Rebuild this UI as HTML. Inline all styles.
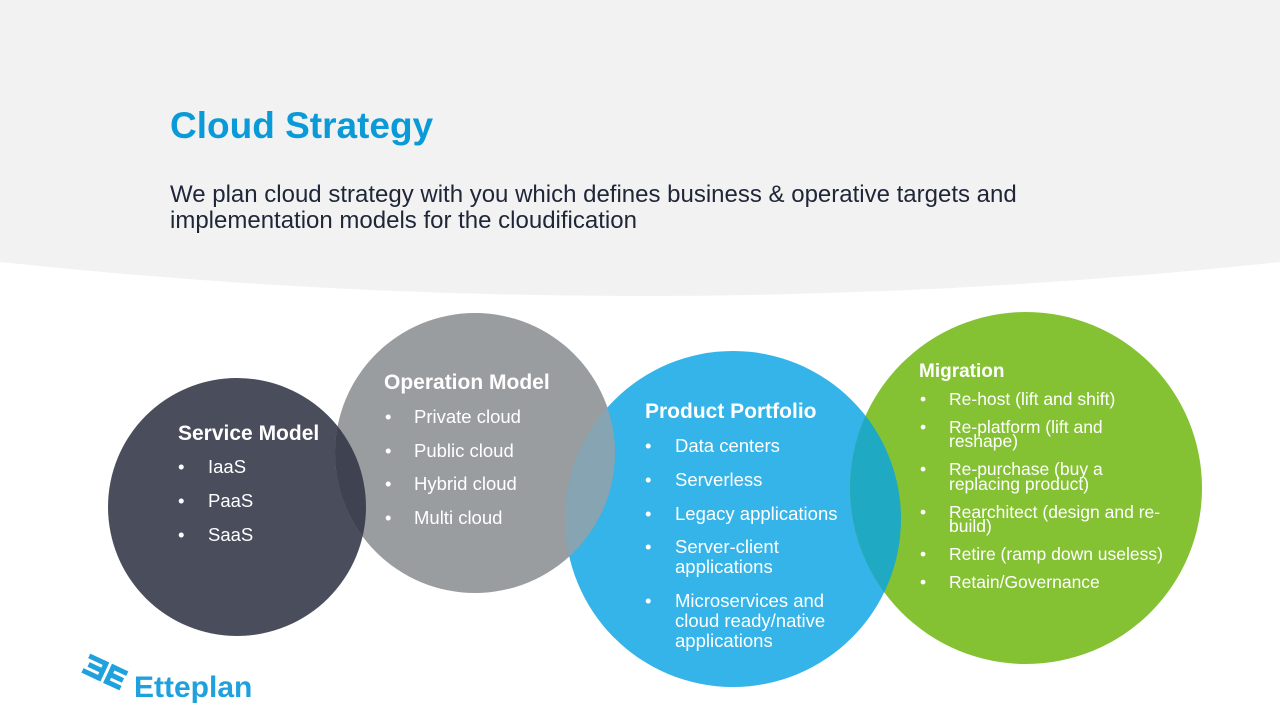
<!DOCTYPE html>
<html><head><meta charset="utf-8"><style>
html,body{margin:0;padding:0;background:#fff;}
svg{display:block;font-family:"Liberation Sans",Arial,sans-serif;}
</style></head><body>
<svg width="1280" height="720" viewBox="0 0 1280 720" xmlns="http://www.w3.org/2000/svg">
<defs>
<clipPath id="cD"><circle cx="237" cy="507" r="129"/></clipPath>
<clipPath id="cG"><circle cx="475" cy="453" r="140"/></clipPath>
<clipPath id="cB"><circle cx="733" cy="519" r="168"/></clipPath>
</defs>
<path d="M0,0 H1280 V262 Q640,330 0,262 Z" fill="#f2f2f2"/>
<text x="170" y="138" font-size="37" font-weight="bold" fill="#0a9ad8">Cloud Strategy</text>
<text x="170" y="202" font-size="24" fill="#1f2638">We plan cloud strategy with you which defines business &amp; operative targets and</text>
<text x="170" y="228" font-size="24" fill="#1f2638">implementation models for the cloudification</text>

<circle cx="237" cy="507" r="129" fill="#4a4d5b"/>
<circle cx="475" cy="453" r="140" fill="#9a9da0"/>
<circle cx="733" cy="519" r="168" fill="#34b4e8"/>
<circle cx="1026" cy="488" r="176" fill="#84c234"/>
<circle cx="475" cy="453" r="140" fill="#3f4250" clip-path="url(#cD)"/>
<circle cx="733" cy="519" r="168" fill="#86a4b1" clip-path="url(#cG)"/>
<circle cx="1026" cy="488" r="176" fill="#1fa9c3" clip-path="url(#cB)"/>

<g fill="#fff">
<text x="178" y="440" font-size="21" font-weight="bold">Service Model</text>
<g font-size="18.5">
<text x="178" y="473">•</text><text x="208" y="473">IaaS</text>
<text x="178" y="507">•</text><text x="208" y="507">PaaS</text>
<text x="178" y="541">•</text><text x="208" y="541">SaaS</text>
</g>
<text x="384" y="389" font-size="21" font-weight="bold">Operation Model</text>
<g font-size="18.5">
<text x="385" y="423">•</text><text x="414" y="423">Private cloud</text>
<text x="385" y="457">•</text><text x="414" y="457">Public cloud</text>
<text x="385" y="490">•</text><text x="414" y="490">Hybrid cloud</text>
<text x="385" y="524">•</text><text x="414" y="524">Multi cloud</text>
</g>
<text x="645" y="418" font-size="21" font-weight="bold">Product Portfolio</text>
<g font-size="18.5">
<text x="645" y="452">•</text><text x="675" y="452">Data centers</text>
<text x="645" y="486">•</text><text x="675" y="486">Serverless</text>
<text x="645" y="520">•</text><text x="675" y="520">Legacy applications</text>
<text x="645" y="553">•</text><text x="675" y="553">Server-client</text>
<text x="675" y="573">applications</text>
<text x="645" y="607">•</text><text x="675" y="607">Microservices and</text>
<text x="675" y="627">cloud ready/native</text>
<text x="675" y="647">applications</text>
</g>
<text x="919" y="377" font-size="19" font-weight="bold">Migration</text>
<g font-size="17.5">
<text x="920" y="405">•</text><text x="949" y="405">Re-host (lift and shift)</text>
<text x="920" y="433">•</text><text x="949" y="433">Re-platform (lift and</text>
<text x="949" y="447">reshape)</text>
<text x="920" y="475">•</text><text x="949" y="475">Re-purchase (buy a</text>
<text x="949" y="490">replacing product)</text>
<text x="920" y="518">•</text><text x="949" y="518">Rearchitect (design and re-</text>
<text x="949" y="532">build)</text>
<text x="920" y="560">•</text><text x="949" y="560">Retire (ramp down useless)</text>
<text x="920" y="588">•</text><text x="949" y="588">Retain/Governance</text>
</g>
</g>

<g fill="#1ea1dc">
<g transform="translate(84,662) rotate(25 22 10)">
<rect x="0" y="0" width="18" height="5"/><rect x="3" y="8" width="14" height="5"/><rect x="0" y="16" width="18" height="5"/>
<rect x="16" y="0" width="5" height="21"/>
<rect x="24" y="0" width="5" height="21"/>
<rect x="24" y="0" width="18" height="5"/><rect x="27" y="8" width="14" height="5"/><rect x="24" y="16" width="18" height="5"/>
</g>
<text x="134" y="697" font-size="30" font-weight="bold">Etteplan</text>
</g>
</svg>
</body></html>
